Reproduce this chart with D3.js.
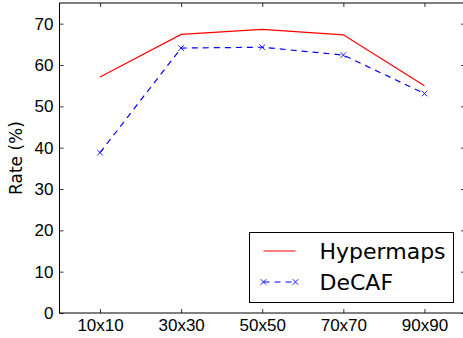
<!DOCTYPE html>
<html>
<head>
<meta charset="utf-8">
<script src="https://cdn.jsdelivr.net/npm/d3@7"></script>
<style>
  body { margin: 0; background: #fff; }
  svg { font-family: "DejaVu Sans", sans-serif; }
</style>
</head>
<body>
<svg id="chart" width="463" height="338"></svg>
<script>
// data
var categories = ["10x10", "30x30", "50x50", "70x70", "90x90"];
var hypermaps = [57.1, 67.4, 68.6, 67.3, 55.0];
var decaf = [38.8, 64.1, 64.3, 62.4, 53.1];
var yTicks = [0, 10, 20, 30, 40, 50, 60, 70];
var seriesNames = ["Hypermaps", "DeCAF"];

var svg = d3.select("#chart"),
  margin = { top: 3, right: -2, bottom: 25, left: 59.5 },
  width = +svg.attr("width") - margin.left - margin.right,
  height = +svg.attr("height") - margin.top - margin.bottom;

var g = svg.append("g").attr("transform", "translate(" + margin.left + "," + margin.top + ")");

var x = d3.scalePoint().domain(categories).range([0, width]).padding(0.5);
var y = d3.scaleLinear().domain([0, 75]).range([height, 0]);

// axes, ticks pointing inward like matplotlib classic
var xAxis = g.append("g")
  .attr("transform", "translate(0," + height + ")")
  .call(d3.axisBottom(x).tickSizeInner(-4).tickSizeOuter(0).tickPadding(6));
xAxis.selectAll("text").attr("font-size", "17px").attr("fill", "#000");

var xTop = g.append("g")
  .call(d3.axisTop(x).tickSizeInner(-4).tickSizeOuter(0).tickFormat(""));

var yAxis = g.append("g")
  .call(d3.axisLeft(y).tickValues(yTicks).tickSizeInner(-4).tickSizeOuter(0).tickPadding(6));
yAxis.selectAll("text").attr("font-size", "17px").attr("fill", "#000");

var yRight = g.append("g")
  .attr("transform", "translate(" + width + ",0)")
  .call(d3.axisRight(y).tickValues(yTicks).tickSizeInner(-4).tickSizeOuter(0).tickFormat(""));

g.selectAll(".domain").remove();
g.selectAll(".tick line").attr("stroke", "#000").attr("stroke-width", 0.8);

g.append("rect")
  .attr("width", width).attr("height", height)
  .attr("fill", "none").attr("stroke", "#000").attr("stroke-width", 1);

svg.append("text")
  .attr("transform", "translate(22," + (margin.top + height / 2) + ") rotate(-90)")
  .attr("text-anchor", "middle")
  .attr("font-size", "17px")
  .text("Rate (%)");

var line = d3.line()
  .x(function(d, i) { return x(categories[i]); })
  .y(function(d) { return y(d); });

g.append("path").datum(hypermaps)
  .attr("d", line)
  .attr("fill", "none").attr("stroke", "#ff0000").attr("stroke-width", 1.2);

g.append("path").datum(decaf)
  .attr("d", line)
  .attr("fill", "none").attr("stroke", "#0000ff").attr("stroke-width", 1.2)
  .attr("stroke-dasharray", "6,5");

var xMark = d3.symbol().type(d3.symbolX).size(22);
g.selectAll(".mark").data(decaf).enter()
  .append("path")
  .attr("class", "mark")
  .attr("transform", function(d, i) { return "translate(" + x(categories[i]) + "," + y(d) + ")"; })
  .attr("d", xMark)
  .attr("fill", "none").attr("stroke", "#0000ff").attr("stroke-width", 0.9);

// legend
var lg = svg.append("g").attr("transform", "translate(249.5,232.5)");
lg.append("rect").attr("width", 204).attr("height", 70)
  .attr("fill", "#fff").attr("stroke", "#000").attr("stroke-width", 1);

var rows = lg.selectAll(".row").data(seriesNames).enter()
  .append("g")
  .attr("transform", function(d, i) { return "translate(0," + (18.5 + i * 31) + ")"; });

rows.append("line")
  .attr("x1", 14).attr("x2", 46)
  .attr("stroke", function(d, i) { return i == 0 ? "#ff0000" : "#0000ff"; })
  .attr("stroke-width", 1.2)
  .attr("stroke-dasharray", function(d, i) { return i == 0 ? null : "6,5"; });

rows.filter(function(d, i) { return i == 1; })
  .selectAll(".lm").data([14, 46]).enter()
  .append("path")
  .attr("transform", function(d) { return "translate(" + d + ",0)"; })
  .attr("d", xMark)
  .attr("fill", "none").attr("stroke", "#0000ff").attr("stroke-width", 0.9);

rows.append("text")
  .attr("x", 70).attr("dy", "0.36em")
  .attr("font-size", "22px")
  .text(function(d) { return d; });
</script>
</body>
</html>
